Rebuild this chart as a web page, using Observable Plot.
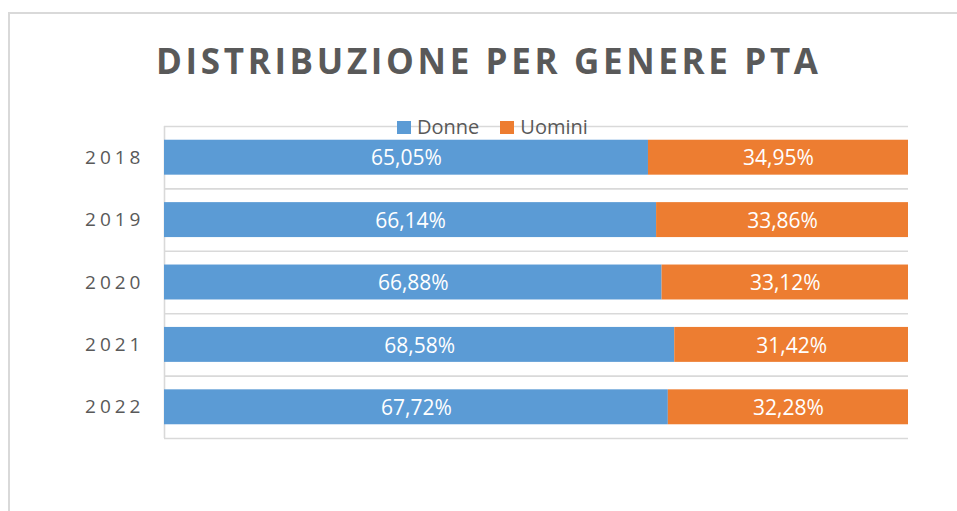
<!DOCTYPE html>
<html>
<head>
<meta charset="utf-8">
<script src="https://cdn.jsdelivr.net/npm/d3@7"></script>
<script src="https://cdn.jsdelivr.net/npm/@observablehq/plot@0.6"></script>
<style>
  html, body { margin: 0; padding: 0; background: #fff; }
  #wrap { position: relative; width: 957px; height: 511px; overflow: hidden; font-family: "Open Sans", sans-serif; }
  #border { position: absolute; left: 8px; top: 12px; width: 1000px; height: 600px; border-top: 2px solid #d9d9d9; border-left: 2px solid #d9d9d9; }
  #title { position: absolute; left: 156px; top: 43px; font-size: 35px; line-height: 35px; font-weight: 700; color: #595959; white-space: nowrap; z-index: 2; }
  #legend { position: absolute; left: 397px; top: 117px; font-size: 20px; line-height: 20px; color: #595959; display: flex; align-items: center; z-index: 2; white-space: nowrap; }
  #legend .sw { display: inline-block; width: 14px; height: 13px; margin-right: 6px; }
  #legend .item { display: flex; align-items: center; margin-right: 21px; }
  #chart { position: absolute; left: 0; top: 0; z-index: 1; }
  .yearlbl text, text.yearlbl { letter-spacing: 4px; }
</style>
</head>
<body>
<div id="wrap">
  <div id="border"></div>
  <div id="chart"></div>
  <div id="title"></div>
  <div id="legend"></div>
</div>
<script>
const titleText = "DISTRIBUZIONE PER GENERE PTA";
const years = ["2018", "2019", "2020", "2021", "2022"];
const donne = [65.05, 66.14, 66.88, 68.58, 67.72];
const uomini = [34.95, 33.86, 33.12, 31.42, 32.28];
const series = ["Donne", "Uomini"];
const colors = ["#5B9BD5", "#ED7D31"];

const fmt = v => v.toFixed(2).replace(".", ",") + "%";

const rows = years.flatMap((yr, i) => [
  {i, year: yr, s: series[0], x1: 0, x2: donne[i], v: donne[i]},
  {i, year: yr, s: series[1], x1: donne[i], x2: donne[i] + uomini[i], v: uomini[i]}
]);
const yearRows = years.map((yr, i) => ({i, year: yr}));
const gridIdx = d3.range(years.length + 1);

const chart = Plot.plot({
  width: 957,
  height: 511,
  marginLeft: 164,
  marginRight: 49,
  marginTop: 126,
  marginBottom: 73,
  style: {fontFamily: "'Open Sans', sans-serif", background: "transparent"},
  x: {domain: [0, 100], axis: null},
  y: {domain: [0, years.length], reverse: true, axis: null},
  color: {domain: series, range: colors},
  marks: [
    Plot.ruleY(gridIdx, {y: d => d, stroke: "#d9d9d9", strokeWidth: 1.6}),
    Plot.ruleX([0], {x: d => d, stroke: "#d9d9d9", strokeWidth: 1.6}),
    Plot.rectX(rows, {x1: "x1", x2: "x2", y1: d => d.i + 0.22, y2: d => d.i + 0.78, fill: "s"}),
    Plot.text(rows, {x: d => (d.x1 + d.x2) / 2, y: d => d.i + 0.5, text: d => fmt(d.v), fill: "white", fontSize: 21, dy: 1}),
    Plot.text(yearRows, {x: 0, y: d => d.i + 0.5, text: "year", textAnchor: "end", dx: -20, fill: "#595959", fontSize: 19, ariaLabel: "years", className: "yearlbl"})
  ]
});
d3.select(chart).selectAll('text[aria-label="years"], g[aria-label="years"] text, .yearlbl text')
  .attr("letter-spacing", "4px").style("letter-spacing", "4px");
document.getElementById("chart").appendChild(chart);

// title with letter spacing fitted to the reference width
const t = document.getElementById("title");
t.textContent = titleText;
const natural = t.getBoundingClientRect().width;
const targetW = 662;
t.style.letterSpacing = ((targetW - natural) / (titleText.length - 1)) + "px";

// legend
const lg = document.getElementById("legend");
series.forEach((s, k) => {
  const it = document.createElement("span");
  it.className = "item";
  const sw = document.createElement("span");
  sw.className = "sw";
  sw.style.background = colors[k];
  it.appendChild(sw);
  it.appendChild(document.createTextNode(s));
  lg.appendChild(it);
});
</script>
</body>
</html>
